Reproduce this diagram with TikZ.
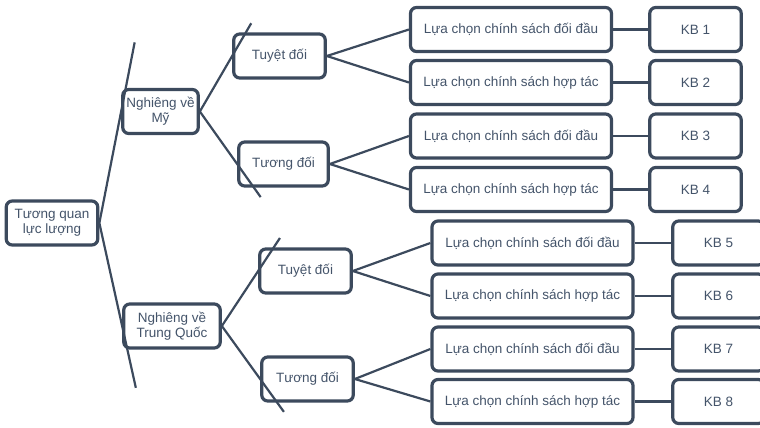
\documentclass[tikz,border=0pt]{standalone}
\usepackage{fontspec}
\setmainfont{Liberation Sans}
\usetikzlibrary{calc}

\definecolor{slate}{HTML}{3C4A5D}
\definecolor{slatetext}{HTML}{44546A}

\tikzset{
  box/.style={draw=slate, line width=3.2pt, rounded corners=6pt, fill=white,
    text=slatetext, align=center, inner sep=0pt, minimum height=44pt,
    font=\fontsize{13.5}{15}\selectfont},
  choice/.style={box, minimum width=201pt},
  kb/.style={box, minimum width=91.5pt},
  link/.style={draw=slate, line width=2.2pt},
}

\begin{document}
\begin{tikzpicture}[x=1pt,y=-1pt]
    \clip (0,0) rectangle (760,428);
    % root and first level
    \node[box, minimum width=91.5pt] (r) at (52,223) {Tương quan\\lực lượng};
    \node[box, minimum width=75.5pt] (m) at (160.5,111.5) {Nghiêng về\\Mỹ};
    \node[box, minimum width=96.5pt] (q) at (172,326) {Nghiêng về\\Trung Quốc};
    % second level
    \node[box, minimum width=91.5pt] (mt) at (279.5,56) {Tuyệt đối};
    \node[box, minimum width=89.5pt] (mg) at (283.5,164) {Tương đối};
    \node[box, minimum width=91.5pt] (qt) at (305.5,271) {Tuyệt đối};
    \node[box, minimum width=91.5pt] (qg) at (307.5,379) {Tương đối};
    % policy choices
    \node[choice] (c1) at (511,29.5) {Lựa chọn chính sách đối đầu};
    \node[choice] (c2) at (511,82.5) {Lựa chọn chính sách hợp tác};
    \node[choice] (c3) at (511,136) {Lựa chọn chính sách đối đầu};
    \node[choice] (c4) at (511,189.5) {Lựa chọn chính sách hợp tác};
    \node[choice] (c5) at (532.5,243) {Lựa chọn chính sách đối đầu};
    \node[choice] (c6) at (532.5,296) {Lựa chọn chính sách hợp tác};
    \node[choice] (c7) at (532.5,349) {Lựa chọn chính sách đối đầu};
    \node[choice] (c8) at (532.5,401.5) {Lựa chọn chính sách hợp tác};
    % scenarios
    \node[kb] (k1) at (695.5,29.5) {KB 1};
    \node[kb] (k2) at (695.5,82.5) {KB 2};
    \node[kb] (k3) at (695.5,136) {KB 3};
    \node[kb] (k4) at (695.5,189.5) {KB 4};
    \node[kb] (k5) at (718.5,243) {KB 5};
    \node[kb] (k6) at (718.5,296) {KB 6};
    \node[kb] (k7) at (718.5,349) {KB 7};
    \node[kb] (k8) at (718.5,401.5) {KB 8};
    % connectors
    \draw[link] (r.east) -- (m.west) -- ($(r.east)!1.62!(m.west)$);
    \draw[link] (r.east) -- (q.west) -- ($(r.east)!1.6!(q.west)$);
    \draw[link] (m.east) -- (mt.west) -- ($(m.east)!1.59!(mt.west)$);
    \draw[link] (m.east) -- (mg.west) -- ($(m.east)!1.63!(mg.west)$);
    \draw[link] (q.east) -- (qt.west) -- ($(q.east)!1.6!(qt.west)$);
    \draw[link] (q.east) -- (qg.west) -- ($(q.east)!1.62!(qg.west)$);
    \draw[link] (mt.east) -- (c1.west);
    \draw[link] (mt.east) -- (c2.west);
    \draw[link] (mg.east) -- (c3.west);
    \draw[link] (mg.east) -- (c4.west);
    \draw[link] (qt.east) -- (c5.west);
    \draw[link] (qt.east) -- (c6.west);
    \draw[link] (qg.east) -- (c7.west);
    \draw[link] (qg.east) -- (c8.west);
    \draw[link] (c1) -- (k1);
    \draw[link] (c2) -- (k2);
    \draw[link] (c3) -- (k3);
    \draw[link] (c4) -- (k4);
    \draw[link] (c5) -- (k5);
    \draw[link] (c6) -- (k6);
    \draw[link] (c7) -- (k7);
    \draw[link] (c8) -- (k8);
\end{tikzpicture}
\end{document}
